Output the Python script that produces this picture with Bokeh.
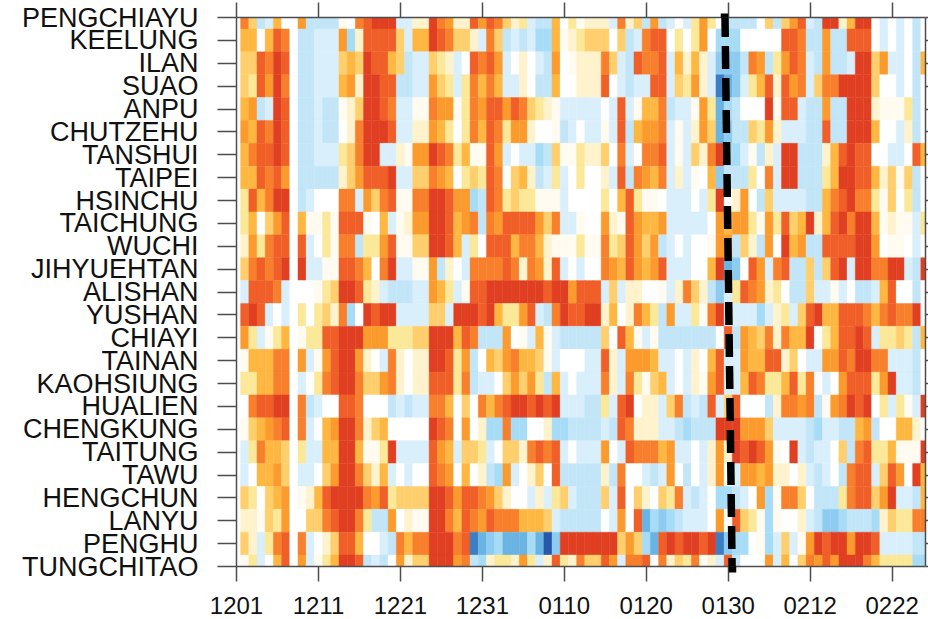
from bokeh.plotting import figure
from bokeh.models import Range1d, FixedTicker, LinearAxis, LinearColorMapper, ColumnDataSource, Arrow, CustomLabelingPolicy
from bokeh.transform import transform
from bokeh.embed import file_html
from bokeh.resources import INLINE

stations = ["PENGCHIAYU","KEELUNG","ILAN","SUAO","ANPU","CHUTZEHU","TANSHUI","TAIPEI","HSINCHU","TAICHUNG",
            "WUCHI","JIHYUEHTAN","ALISHAN","YUSHAN","CHIAYI","TAINAN","KAOHSIUNG","HUALIEN","CHENGKUNG",
            "TAITUNG","TAWU","HENGCHUN","LANYU","PENGHU","TUNGCHITAO"]
date_ticks = [0,10,20,30,40,50,60,70,80]
date_labels = ["1201","1211","1221","1231","0110","0120","0130","0212","0222"]

# anomaly class per day, one letter per day: a (deepest blue) ... h (white) ... q (deepest red)
PENGCHIAYU = "holfgmhhnf fffihopqqq ggjjqonjjp npoljkgffm hkijjjgojl fnfghgknkh ffffhlflnp gfqqjmqqhg hghfh"
KEELUNG    = "hmmhmpohff gggnejpppp lgmmqpollj golfgfgeem ijklllhlfg opphkhknhe eehhhhhppo ffnffppphg hghfh"
ILAN       = "hllpoqphff ggglmlqppm lfgglkjghp opnghjhgfn hijjjolgfp oopgmjmjgd ddfonfknpo gfnffgqqln gghfm"
SUAO       = "hlkpnqohff gggmnjqqpp ffggnlkgko momggjhffm hhjjjphgfg gppglknjgb cdgkmpjpno glooqqqqlh hghfh"
ANPU       = "hmnfgqphff gffijlqqpo ggiionniko nppnpolkji ggggghgpgi mmofgginkc efhhhqippg ffnffqqqji iikfh"
CHUTZEHU   = "hnmpoqphff gffhjoqqqp ggjjnmkhko mpoknnjhhi fghggigpfm nnogigjnlc dfflknjggg ffpffqqqmh hgjfh"
TANSHUI    = "hmoppqphff gggkloqqgg jinnqpokmi ipnghggefl iikjjlhogh oopgigljoq eegifjgqqf ffjmpqpphh gghpm"
TAIPEI     = "hmmpopnhff fffjlnpppq ggllonmhkl kpohlmjfgk ghkhhjgpfo nmogjgihmd fffkhogqqf ffkmqqppmj lilfh"
HSINCHU    = "hkpmoqqhfg hhhoognlop iiooqqpnne fpoklkkiii ghhhhkhmpk iihggghgkq hjnhflgggg ffmopqooki lhkfh"
TAICHUNG   = "hkmhlnphmi ikipppihmg ijnnqqpmno fonppppnlo ggihhnjipn mmnggggghn mnnkinkplm qjmpqoqqmi jiigk"
WUCHI      = "hjnkopphpg hkioofkknp iillqqpmgk hpppmoomji iikiioklpn lnfghghhin nfljfnhqmn ffppppqqnh iihgh"
JIHYUEHTAN = "hlopopqhqg giippomhoq ggiinfjhgo ooopojonjp ghghhonmpn mnpggghhmq cdhpngopff lflpqgqqoo qqgfq"
ALISHAN    = "hgpppoghhh iklqqpkjgf ffggnmkgip pqqqqqqqpq qnpppglgjj hhigjoljfd gkponjkhff lggighffgm phhfh"
YUSHAN     = "hpqpghghkh kljoehqpqq ggggllgqqq pqmkknpgfo qppqqjmhjo mkfnggkioq ggggegjkgl pqmmpppomo pooqh"
CHIAYI     = "hnkgikmhik kppqqqnnnk kkllqqqmpo fffnhigmig ffffflhpmi gifffffffh pfnmlojomm qhkmppqpgk klkfm"
TAINAN     = "himmmoohng inpqqnjhgo jhjjqqpknf hmlnommlig hhhggpjgnn nmgghgjhmp ggnmmppjlh ggnnpoqqoo gggfh"
KAOHSIUNG  = "hkkmmoohgh kopqqollno jhjjpppkof gghlnlnkfm ghgggojgok ilmghgjinp ggmpokkmpk ohghnpppkn qggfh"
HUALIEN    = "hhoppqqhof ghhppohhhf gfggoomhlh omopqqpqpq gggffkgpqh jjglofgfpg lphhhfjoon ofinoqpqhk gkigq"
CHENGKUNG  = "hilmnophog hmnqqojlmh hhhhqpohnh jeeoeehhje effffgfpoj jjggfefffq qqnnnlgggg feggffmnfh hmmjh"
TAITUNG    = "hgkommlhkg gmmqqmiikq ggggpnmgll kghlljopop ghgggnhgpo oomngghgjn jqpqpnihqg fgghlfopkk miiiq"
TAWU       = "hghmmnlhgg hlnqqoljmg hghhponhmh jfenghjlhp fffffjfohh gfgnhfhgjn hgnnmnjjhj gfghfoppgl pnhqm"
HENGCHUN   = "hlkhlmnhij mpqqqqonpk llllqqpnpp onljhhgjgk lgffflgphl jhlkogfghe efghneiool hfffkoppln qggfm"
LANYU      = "hjjilknhhl lopqqokffn hjiiqqompo npooommmlg fffffhgnhp cedefggghn hplkieihhj gfddefffej lkkoo"
PENGHU     = "hljgkophog hjlppmhhgf omooqqqopb cdecccecad qqqqqqqlnl ecpqpqqpqb deehieglgi nqpqqnqqpg gggff"
TUNGCHITAO = "hikghmphng ikmqqpfgfh njllqqqnof ejkkjnkgjp kjollpngoo phojlkoijg pfhhhngmhl onpnqqqomk kkkee"

rows = [PENGCHIAYU,KEELUNG,ILAN,SUAO,ANPU,CHUTZEHU,TANSHUI,TAIPEI,HSINCHU,TAICHUNG,WUCHI,JIHYUEHTAN,ALISHAN,
        YUSHAN,CHIAYI,TAINAN,KAOHSIUNG,HUALIEN,CHENGKUNG,TAITUNG,TAWU,HENGCHUN,LANYU,PENGHU,TUNGCHITAO]

palette = ["#2557AB","#3C7EC4","#69B4E2","#8DCCF0","#A7DCF6","#C2E6F8","#D9EFFB","#FFFFFF","#FFFBF0",
           "#FEF3CC","#FBE898","#FECF6C","#FEB741","#FC9B2D","#F87F2B","#F05F28","#E03F22"]
classes = "abcdefghijklmnopq"

# transition date marker, in (day, station index)
marker_day = [59.6, 60.48]
marker_row = [-0.15, 24.26]

xs, ys, vs = [], [], []
for r, row in enumerate(rows):
    s = row.replace(" ", "")
    assert len(s) == 85, (r, len(s))
    for c, ch in enumerate(s):
        xs.append(c); ys.append(r); vs.append(classes.index(ch) - 7)

src = ColumnDataSource(dict(x=xs, y=ys, v=vs))
mapper = LinearColorMapper(palette=palette, low=-7.5, high=9.5)

p = figure(width=928, height=619, output_backend="svg", toolbar_location=None,
           x_range=Range1d(0, 84.07), y_range=Range1d(24, 0),
           x_axis_location=None, y_axis_location=None,
           min_border_left=236, min_border_right=3, min_border_top=17, min_border_bottom=53,
           outline_line_color=None, background_fill_color="white", margin=(0, 0, 0, 0))
p.grid.visible = False

p.rect(x="x", y="y", width=1, height=1, source=src, fill_color=transform("v", mapper),
       line_color=transform("v", mapper), line_width=0.4)

AXC = "#4d4d4d"
def style(ax, tick_out):
    ax.axis_line_color = AXC
    ax.axis_line_width = 1.5
    ax.major_tick_line_color = AXC
    ax.major_tick_line_width = 1.5
    ax.major_tick_in = 0
    ax.major_tick_out = tick_out
    ax.minor_tick_line_color = None

no_labels = "for (const i of Array.from(indices)) indices.unset(i); return indices"

left = LinearAxis(ticker=FixedTicker(ticks=list(range(25))),
                  major_label_overrides={i: s for i, s in enumerate(stations)})
style(left, 19)
left.major_label_standoff = 19
left.major_label_text_font = "Liberation Sans"
left.major_label_text_font_size = "27px"
left.major_label_text_color = "#111111"
p.add_layout(left, "left")

bottom = LinearAxis(ticker=FixedTicker(ticks=date_ticks, minor_ticks=[marker_day[1]]),
                    major_label_overrides={t: s for t, s in zip(date_ticks, date_labels)})
style(bottom, 15)
bottom.major_label_text_font = "Liberation Sans"
bottom.major_label_text_font_size = "24px"
bottom.major_label_text_color = "#111111"
bottom.major_label_standoff = 15
# the marker overruns the frame, where its line is clipped: a minor tick carries it on at each end
bottom.minor_tick_line_color = "black"
bottom.minor_tick_line_width = 7.5
bottom.minor_tick_in = 0
bottom.minor_tick_out = 6
p.add_layout(bottom, "below")

top = LinearAxis(ticker=FixedTicker(ticks=date_ticks, minor_ticks=[marker_day[0]]), major_label_text_font_size="0px",
                 major_label_standoff=0, major_label_policy=CustomLabelingPolicy(code=no_labels))
style(top, 15)
top.minor_tick_line_color = "black"
top.minor_tick_line_width = 7.5
top.minor_tick_in = 0
top.minor_tick_out = 4
p.add_layout(top, "above")

right = LinearAxis(ticker=FixedTicker(ticks=list(range(25))), major_label_text_font_size="0px", major_label_standoff=0,
                   major_label_policy=CustomLabelingPolicy(code=no_labels))
style(right, 3)
p.add_layout(right, "right")

p.add_layout(Arrow(end=None, x_start=marker_day[0], y_start=marker_row[0], x_end=marker_day[1], y_end=marker_row[1],
                   line_color="black", line_width=7.5, line_dash="23 9"))

open("out.html", "w").write(file_html(p, INLINE))
